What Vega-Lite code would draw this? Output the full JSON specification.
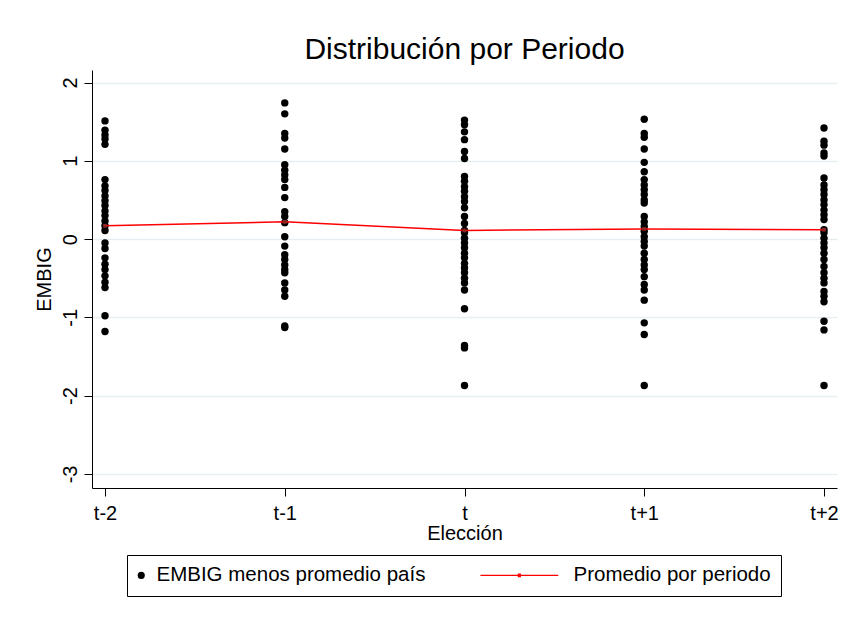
{
  "$schema": "https://vega.github.io/schema/vega-lite/v6.json",
  "autosize": {"type": "none"},
  "padding": {"left": 92, "top": 70, "right": 7, "bottom": 129},
  "width": 745,
  "height": 418,
  "background": "white",
  "config": {
    "font": "Liberation Sans",
    "view": {"stroke": null},
    "axis": {"labelFont": "Liberation Sans", "titleFont": "Liberation Sans", "labelColor": "black", "titleColor": "black", "domainColor": "black", "tickColor": "black", "titleFontWeight": "normal"}
  },
  "title": {"text": "Distribución por Periodo", "fontSize": 30, "font": "Liberation Sans", "fontWeight": "normal", "color": "black", "anchor": "middle", "offset": 5},
  "datasets": {
    "puntos": [
      {"periodo": "t-2", "embig": 1.51, "serie": "EMBIG menos promedio país"},
      {"periodo": "t-2", "embig": 1.39, "serie": "EMBIG menos promedio país"},
      {"periodo": "t-2", "embig": 1.33, "serie": "EMBIG menos promedio país"},
      {"periodo": "t-2", "embig": 1.28, "serie": "EMBIG menos promedio país"},
      {"periodo": "t-2", "embig": 1.21, "serie": "EMBIG menos promedio país"},
      {"periodo": "t-2", "embig": 0.76, "serie": "EMBIG menos promedio país"},
      {"periodo": "t-2", "embig": 0.68, "serie": "EMBIG menos promedio país"},
      {"periodo": "t-2", "embig": 0.62, "serie": "EMBIG menos promedio país"},
      {"periodo": "t-2", "embig": 0.55, "serie": "EMBIG menos promedio país"},
      {"periodo": "t-2", "embig": 0.49, "serie": "EMBIG menos promedio país"},
      {"periodo": "t-2", "embig": 0.43, "serie": "EMBIG menos promedio país"},
      {"periodo": "t-2", "embig": 0.36, "serie": "EMBIG menos promedio país"},
      {"periodo": "t-2", "embig": 0.30, "serie": "EMBIG menos promedio país"},
      {"periodo": "t-2", "embig": 0.23, "serie": "EMBIG menos promedio país"},
      {"periodo": "t-2", "embig": 0.17, "serie": "EMBIG menos promedio país"},
      {"periodo": "t-2", "embig": 0.11, "serie": "EMBIG menos promedio país"},
      {"periodo": "t-2", "embig": -0.05, "serie": "EMBIG menos promedio país"},
      {"periodo": "t-2", "embig": -0.12, "serie": "EMBIG menos promedio país"},
      {"periodo": "t-2", "embig": -0.24, "serie": "EMBIG menos promedio país"},
      {"periodo": "t-2", "embig": -0.32, "serie": "EMBIG menos promedio país"},
      {"periodo": "t-2", "embig": -0.39, "serie": "EMBIG menos promedio país"},
      {"periodo": "t-2", "embig": -0.47, "serie": "EMBIG menos promedio país"},
      {"periodo": "t-2", "embig": -0.55, "serie": "EMBIG menos promedio país"},
      {"periodo": "t-2", "embig": -0.62, "serie": "EMBIG menos promedio país"},
      {"periodo": "t-2", "embig": -0.98, "serie": "EMBIG menos promedio país"},
      {"periodo": "t-2", "embig": -1.18, "serie": "EMBIG menos promedio país"},
      {"periodo": "t-1", "embig": 1.74, "serie": "EMBIG menos promedio país"},
      {"periodo": "t-1", "embig": 1.60, "serie": "EMBIG menos promedio país"},
      {"periodo": "t-1", "embig": 1.35, "serie": "EMBIG menos promedio país"},
      {"periodo": "t-1", "embig": 1.29, "serie": "EMBIG menos promedio país"},
      {"periodo": "t-1", "embig": 1.15, "serie": "EMBIG menos promedio país"},
      {"periodo": "t-1", "embig": 0.95, "serie": "EMBIG menos promedio país"},
      {"periodo": "t-1", "embig": 0.88, "serie": "EMBIG menos promedio país"},
      {"periodo": "t-1", "embig": 0.82, "serie": "EMBIG menos promedio país"},
      {"periodo": "t-1", "embig": 0.76, "serie": "EMBIG menos promedio país"},
      {"periodo": "t-1", "embig": 0.66, "serie": "EMBIG menos promedio país"},
      {"periodo": "t-1", "embig": 0.53, "serie": "EMBIG menos promedio país"},
      {"periodo": "t-1", "embig": 0.35, "serie": "EMBIG menos promedio país"},
      {"periodo": "t-1", "embig": 0.29, "serie": "EMBIG menos promedio país"},
      {"periodo": "t-1", "embig": 0.21, "serie": "EMBIG menos promedio país"},
      {"periodo": "t-1", "embig": 0.03, "serie": "EMBIG menos promedio país"},
      {"periodo": "t-1", "embig": -0.09, "serie": "EMBIG menos promedio país"},
      {"periodo": "t-1", "embig": -0.20, "serie": "EMBIG menos promedio país"},
      {"periodo": "t-1", "embig": -0.26, "serie": "EMBIG menos promedio país"},
      {"periodo": "t-1", "embig": -0.33, "serie": "EMBIG menos promedio país"},
      {"periodo": "t-1", "embig": -0.39, "serie": "EMBIG menos promedio país"},
      {"periodo": "t-1", "embig": -0.43, "serie": "EMBIG menos promedio país"},
      {"periodo": "t-1", "embig": -0.56, "serie": "EMBIG menos promedio país"},
      {"periodo": "t-1", "embig": -0.65, "serie": "EMBIG menos promedio país"},
      {"periodo": "t-1", "embig": -0.73, "serie": "EMBIG menos promedio país"},
      {"periodo": "t-1", "embig": -1.11, "serie": "EMBIG menos promedio país"},
      {"periodo": "t-1", "embig": -1.13, "serie": "EMBIG menos promedio país"},
      {"periodo": "t", "embig": 1.52, "serie": "EMBIG menos promedio país"},
      {"periodo": "t", "embig": 1.46, "serie": "EMBIG menos promedio país"},
      {"periodo": "t", "embig": 1.37, "serie": "EMBIG menos promedio país"},
      {"periodo": "t", "embig": 1.27, "serie": "EMBIG menos promedio país"},
      {"periodo": "t", "embig": 1.12, "serie": "EMBIG menos promedio país"},
      {"periodo": "t", "embig": 1.03, "serie": "EMBIG menos promedio país"},
      {"periodo": "t", "embig": 0.80, "serie": "EMBIG menos promedio país"},
      {"periodo": "t", "embig": 0.74, "serie": "EMBIG menos promedio país"},
      {"periodo": "t", "embig": 0.67, "serie": "EMBIG menos promedio país"},
      {"periodo": "t", "embig": 0.61, "serie": "EMBIG menos promedio país"},
      {"periodo": "t", "embig": 0.54, "serie": "EMBIG menos promedio país"},
      {"periodo": "t", "embig": 0.48, "serie": "EMBIG menos promedio país"},
      {"periodo": "t", "embig": 0.40, "serie": "EMBIG menos promedio país"},
      {"periodo": "t", "embig": 0.29, "serie": "EMBIG menos promedio país"},
      {"periodo": "t", "embig": 0.20, "serie": "EMBIG menos promedio país"},
      {"periodo": "t", "embig": 0.11, "serie": "EMBIG menos promedio país"},
      {"periodo": "t", "embig": 0.08, "serie": "EMBIG menos promedio país"},
      {"periodo": "t", "embig": 0.01, "serie": "EMBIG menos promedio país"},
      {"periodo": "t", "embig": -0.05, "serie": "EMBIG menos promedio país"},
      {"periodo": "t", "embig": -0.11, "serie": "EMBIG menos promedio país"},
      {"periodo": "t", "embig": -0.18, "serie": "EMBIG menos promedio país"},
      {"periodo": "t", "embig": -0.24, "serie": "EMBIG menos promedio país"},
      {"periodo": "t", "embig": -0.31, "serie": "EMBIG menos promedio país"},
      {"periodo": "t", "embig": -0.37, "serie": "EMBIG menos promedio país"},
      {"periodo": "t", "embig": -0.43, "serie": "EMBIG menos promedio país"},
      {"periodo": "t", "embig": -0.50, "serie": "EMBIG menos promedio país"},
      {"periodo": "t", "embig": -0.56, "serie": "EMBIG menos promedio país"},
      {"periodo": "t", "embig": -0.65, "serie": "EMBIG menos promedio país"},
      {"periodo": "t", "embig": -0.89, "serie": "EMBIG menos promedio país"},
      {"periodo": "t", "embig": -1.36, "serie": "EMBIG menos promedio país"},
      {"periodo": "t", "embig": -1.39, "serie": "EMBIG menos promedio país"},
      {"periodo": "t", "embig": -1.87, "serie": "EMBIG menos promedio país"},
      {"periodo": "t+1", "embig": 1.53, "serie": "EMBIG menos promedio país"},
      {"periodo": "t+1", "embig": 1.35, "serie": "EMBIG menos promedio país"},
      {"periodo": "t+1", "embig": 1.30, "serie": "EMBIG menos promedio país"},
      {"periodo": "t+1", "embig": 1.15, "serie": "EMBIG menos promedio país"},
      {"periodo": "t+1", "embig": 0.98, "serie": "EMBIG menos promedio país"},
      {"periodo": "t+1", "embig": 0.86, "serie": "EMBIG menos promedio país"},
      {"periodo": "t+1", "embig": 0.76, "serie": "EMBIG menos promedio país"},
      {"periodo": "t+1", "embig": 0.69, "serie": "EMBIG menos promedio país"},
      {"periodo": "t+1", "embig": 0.63, "serie": "EMBIG menos promedio país"},
      {"periodo": "t+1", "embig": 0.57, "serie": "EMBIG menos promedio país"},
      {"periodo": "t+1", "embig": 0.50, "serie": "EMBIG menos promedio país"},
      {"periodo": "t+1", "embig": 0.46, "serie": "EMBIG menos promedio país"},
      {"periodo": "t+1", "embig": 0.29, "serie": "EMBIG menos promedio país"},
      {"periodo": "t+1", "embig": 0.22, "serie": "EMBIG menos promedio país"},
      {"periodo": "t+1", "embig": 0.16, "serie": "EMBIG menos promedio país"},
      {"periodo": "t+1", "embig": 0.10, "serie": "EMBIG menos promedio país"},
      {"periodo": "t+1", "embig": 0.03, "serie": "EMBIG menos promedio país"},
      {"periodo": "t+1", "embig": -0.03, "serie": "EMBIG menos promedio país"},
      {"periodo": "t+1", "embig": -0.09, "serie": "EMBIG menos promedio país"},
      {"periodo": "t+1", "embig": -0.18, "serie": "EMBIG menos promedio país"},
      {"periodo": "t+1", "embig": -0.26, "serie": "EMBIG menos promedio país"},
      {"periodo": "t+1", "embig": -0.33, "serie": "EMBIG menos promedio país"},
      {"periodo": "t+1", "embig": -0.39, "serie": "EMBIG menos promedio país"},
      {"periodo": "t+1", "embig": -0.48, "serie": "EMBIG menos promedio país"},
      {"periodo": "t+1", "embig": -0.58, "serie": "EMBIG menos promedio país"},
      {"periodo": "t+1", "embig": -0.65, "serie": "EMBIG menos promedio país"},
      {"periodo": "t+1", "embig": -0.78, "serie": "EMBIG menos promedio país"},
      {"periodo": "t+1", "embig": -1.07, "serie": "EMBIG menos promedio país"},
      {"periodo": "t+1", "embig": -1.22, "serie": "EMBIG menos promedio país"},
      {"periodo": "t+1", "embig": -1.87, "serie": "EMBIG menos promedio país"},
      {"periodo": "t+2", "embig": 1.42, "serie": "EMBIG menos promedio país"},
      {"periodo": "t+2", "embig": 1.25, "serie": "EMBIG menos promedio país"},
      {"periodo": "t+2", "embig": 1.20, "serie": "EMBIG menos promedio país"},
      {"periodo": "t+2", "embig": 1.10, "serie": "EMBIG menos promedio país"},
      {"periodo": "t+2", "embig": 1.06, "serie": "EMBIG menos promedio país"},
      {"periodo": "t+2", "embig": 0.78, "serie": "EMBIG menos promedio país"},
      {"periodo": "t+2", "embig": 0.69, "serie": "EMBIG menos promedio país"},
      {"periodo": "t+2", "embig": 0.63, "serie": "EMBIG menos promedio país"},
      {"periodo": "t+2", "embig": 0.57, "serie": "EMBIG menos promedio país"},
      {"periodo": "t+2", "embig": 0.50, "serie": "EMBIG menos promedio país"},
      {"periodo": "t+2", "embig": 0.44, "serie": "EMBIG menos promedio país"},
      {"periodo": "t+2", "embig": 0.37, "serie": "EMBIG menos promedio país"},
      {"periodo": "t+2", "embig": 0.31, "serie": "EMBIG menos promedio país"},
      {"periodo": "t+2", "embig": 0.25, "serie": "EMBIG menos promedio país"},
      {"periodo": "t+2", "embig": 0.12, "serie": "EMBIG menos promedio país"},
      {"periodo": "t+2", "embig": 0.08, "serie": "EMBIG menos promedio país"},
      {"periodo": "t+2", "embig": 0.01, "serie": "EMBIG menos promedio país"},
      {"periodo": "t+2", "embig": -0.05, "serie": "EMBIG menos promedio país"},
      {"periodo": "t+2", "embig": -0.11, "serie": "EMBIG menos promedio país"},
      {"periodo": "t+2", "embig": -0.18, "serie": "EMBIG menos promedio país"},
      {"periodo": "t+2", "embig": -0.26, "serie": "EMBIG menos promedio país"},
      {"periodo": "t+2", "embig": -0.35, "serie": "EMBIG menos promedio país"},
      {"periodo": "t+2", "embig": -0.43, "serie": "EMBIG menos promedio país"},
      {"periodo": "t+2", "embig": -0.50, "serie": "EMBIG menos promedio país"},
      {"periodo": "t+2", "embig": -0.56, "serie": "EMBIG menos promedio país"},
      {"periodo": "t+2", "embig": -0.67, "serie": "EMBIG menos promedio país"},
      {"periodo": "t+2", "embig": -0.73, "serie": "EMBIG menos promedio país"},
      {"periodo": "t+2", "embig": -0.80, "serie": "EMBIG menos promedio país"},
      {"periodo": "t+2", "embig": -1.05, "serie": "EMBIG menos promedio país"},
      {"periodo": "t+2", "embig": -1.16, "serie": "EMBIG menos promedio país"},
      {"periodo": "t+2", "embig": -1.87, "serie": "EMBIG menos promedio país"}
    ],
    "medias": [
      {"periodo": "t-2", "embig": 0.17, "serie": "Promedio por periodo"},
      {"periodo": "t-1", "embig": 0.22, "serie": "Promedio por periodo"},
      {"periodo": "t", "embig": 0.11, "serie": "Promedio por periodo"},
      {"periodo": "t+1", "embig": 0.13, "serie": "Promedio por periodo"},
      {"periodo": "t+2", "embig": 0.12, "serie": "Promedio por periodo"}
    ]
  },
  "encoding": {
    "x": {
      "field": "periodo", "type": "ordinal",
      "sort": ["t-2", "t-1", "t", "t+1", "t+2"],
      "scale": {"type": "point", "domain": ["t-2", "t-1", "t", "t+1", "t+2"], "padding": 0.0723},
      "axis": {"title": "Elección", "labelAngle": 0, "labelFontSize": 20, "titleFontSize": 20, "tickSize": 8, "labelPadding": 7, "titlePadding": 0, "grid": false, "domainWidth": 1, "tickWidth": 1}
    },
    "y": {
      "field": "embig", "type": "quantitative",
      "scale": {"domain": [-3.18, 2.16], "nice": false, "zero": false},
      "axis": {"title": "EMBIG", "values": [-3, -2, -1, 0, 1, 2], "labelExpr": "'' + datum.value", "labelAngle": -90, "labelAlign": "center", "labelBaseline": "alphabetic", "labelPadding": 8, "labelFontSize": 20, "titleFontSize": 20, "titlePadding": 6, "tickSize": 8, "grid": true, "gridColor": "#e6eef1", "gridWidth": 1.5, "domainWidth": 1, "tickWidth": 1}
    }
  },
  "layer": [
    {
      "data": {"name": "puntos"},
      "mark": {"type": "point", "filled": true, "size": 55, "opacity": 1},
      "encoding": {
        "color": {
          "field": "serie", "type": "nominal",
          "scale": {"domain": ["EMBIG menos promedio país", "Promedio por periodo"], "range": ["black", "#ff0000"]},
          "legend": {
            "title": null,
            "orient": "none",
            "legendX": 35,
            "legendY": 485,
            "direction": "horizontal",
            "columns": 2,
            "columnPadding": 51,
            "padding": 10,
            "strokeColor": "black",
            "fillColor": "white",
            "labelFontSize": 20.5,
            "labelFont": "Liberation Sans",
            "labelColor": "black",
            "labelLimit": 500,
            "symbolSize": 50,
            "symbolOffset": -6,
            "labelOffset": 5,
            "symbolOpacity": 1
          }
        },
        "shape": {
          "field": "serie", "type": "nominal",
          "scale": {"domain": ["EMBIG menos promedio país", "Promedio por periodo"], "range": ["circle", "M-22,-0.2L0,-0.2L0,0.2L-22,0.2Z M-11.45,-0.5L-10.55,-0.5L-10.55,0.5L-11.45,0.5Z"]},
          "legend": {
            "title": null,
            "orient": "none",
            "legendX": 35,
            "legendY": 485,
            "direction": "horizontal",
            "columns": 2,
            "columnPadding": 51,
            "padding": 10,
            "strokeColor": "black",
            "fillColor": "white",
            "labelFontSize": 20.5,
            "labelFont": "Liberation Sans",
            "labelColor": "black",
            "labelLimit": 500,
            "symbolSize": 50,
            "symbolOffset": -6,
            "labelOffset": 5,
            "symbolOpacity": 1
          }
        }
      }
    },
    {
      "data": {"name": "medias"},
      "mark": {"type": "line", "strokeWidth": 1.5, "color": "#ff0000"}
    },
    {
      "data": {"name": "medias"},
      "mark": {"type": "square", "size": 14, "color": "#8b2525", "opacity": 1}
    },
    {
      "mark": {"type": "rule", "color": "black", "strokeWidth": 1},
      "encoding": {"y": {"datum": 0}, "x": {"value": 0}, "x2": {"value": 745}}
    }
  ]
}
